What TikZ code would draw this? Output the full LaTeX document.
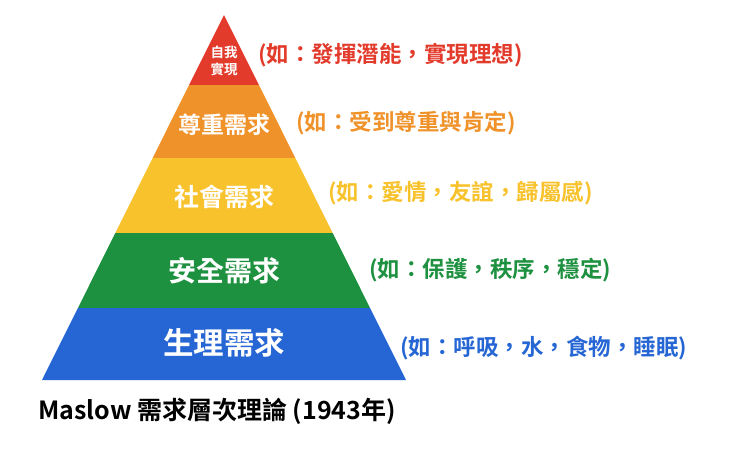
\documentclass[tikz,border=0pt]{standalone}
\usepackage{fontspec}
\setmainfont{Noto Sans CJK TC}[BoldFont={* Bold}]
\definecolor{cred}{HTML}{E23A2B}
\definecolor{corange}{HTML}{EF922A}
\definecolor{cyellow}{HTML}{F8C22C}
\definecolor{cgreen}{HTML}{1E9140}
\definecolor{cblue}{HTML}{2566D4}
\begin{document}
\begin{tikzpicture}[x=1pt,y=-1pt,
  btxt/.style={text=white,font=\bfseries,inner sep=0pt},
  lbl/.style={anchor=west,font=\bfseries\fontsize{22.5}{26}\selectfont,inner sep=0pt}]
\useasboundingbox (0,0) rectangle (740,475);
\fill[cred] (224,15) -- (259,85) -- (189,85) -- cycle;
\fill[corange] (189,85) -- (259,85) -- (295.3,158) -- (152.7,158) -- cycle;
\fill[cyellow] (152.7,158) -- (295.3,158) -- (332.7,233) -- (115.3,233) -- cycle;
\fill[cgreen] (115.3,233) -- (332.7,233) -- (370.1,308) -- (77.9,308) -- cycle;
\fill[cblue] (77.9,308) -- (370.1,308) -- (406,380) -- (42,380) -- cycle;
\node[btxt,align=center,font=\bfseries\fontsize{13.5}{17}\selectfont] (t1) at (224,61) {自我\\實現};
\node[btxt,font=\bfseries\fontsize{23}{27}\selectfont] (t2) at (224,125) {尊重需求};
\node[btxt,font=\bfseries\fontsize{25}{29}\selectfont] (t3) at (224,197) {社會需求};
\node[btxt,font=\bfseries\fontsize{28}{32}\selectfont] (t4) at (224,271) {安全需求};
\node[btxt,font=\bfseries\fontsize{30.5}{35}\selectfont] (t5) at (224,343) {生理需求};
\node[lbl,text=cred] (l1) at (258,55) {(如：發揮潛能，實現理想)};
\node[lbl,text=corange] (l2) at (296,123) {(如：受到尊重與肯定)};
\node[lbl,text=cyellow] (l3) at (328,193) {(如：愛情，友誼，歸屬感)};
\node[lbl,text=cgreen] (l4) at (369,270) {(如：保護，秩序，穩定)};
\node[lbl,text=cblue] (l5) at (400,348) {(如：呼吸，水，食物，睡眠)};
\node[anchor=west,inner sep=0pt,font=\bfseries\fontsize{25}{29}\selectfont] (cap) at (38,411) {Maslow 需求層次理論 (1943年)};
\end{tikzpicture}
\end{document}
